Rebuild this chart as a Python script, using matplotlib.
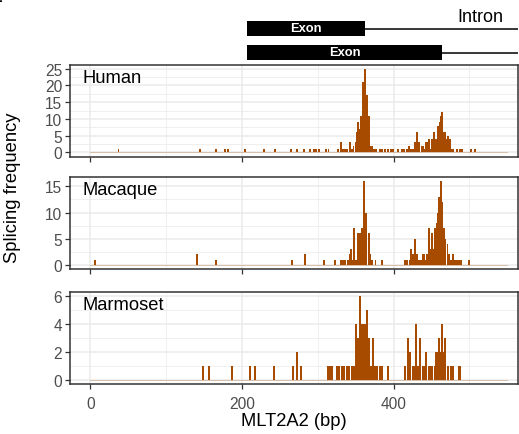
import matplotlib
matplotlib.use('Agg')
import matplotlib.pyplot as plt
from matplotlib.ticker import MultipleLocator

plt.rcParams['font.family'] = ['Liberation Sans', 'DejaVu Sans']

# Splicing positions (bp along MLT2A2) and frequencies
human_pos = [37, 144, 166, 178, 181, 204, 229, 244, 265, 272, 282, 290, 295, 298, 302, 311, 314,
             327, 330, 333, 336, 339, 342, 345, 347, 350, 352, 353, 355, 357, 359, 360, 362, 365, 367,
             369, 372, 374, 377, 382, 385, 388, 393, 396, 399, 406, 411, 414, 417, 420, 423, 426, 428,
             431, 434, 437, 439, 441, 443, 445, 447, 449, 451, 453, 456, 458, 459, 461, 462, 464, 466,
             468, 470, 472, 474, 476, 478, 484, 487, 490, 502, 507]
human_freq = [1, 1, 1, 1, 1, 1, 1, 1, 1, 1, 1, 1, 1, 1, 1, 1, 1,
              1, 3, 1, 1, 1, 3, 1, 2, 3, 6, 9, 7, 11, 16, 21, 25, 17, 11,
              2, 2, 1, 1, 1, 1, 1, 1, 1, 1, 1, 1, 1, 1, 2, 1, 1, 3,
              6, 3, 2, 2, 1, 3, 3, 4, 1, 4, 6, 4, 2, 8, 9, 11, 12, 6,
              6, 4, 5, 4, 1, 1, 1, 1, 1, 1, 1]

macaque_pos = [6, 141, 166, 266, 283, 308, 323, 330, 333, 336, 340, 342, 344, 346, 348, 350, 353,
               356, 358, 361, 364, 367, 369, 372, 376, 385, 415, 418, 421, 423, 426, 428, 431, 434,
               436, 438, 440, 442, 444, 447, 449, 451, 453, 455, 457, 458, 460, 462, 464, 466, 468,
               471, 473, 476, 478, 481, 483, 486, 489, 499]
macaque_freq = [1, 2, 1, 1, 2, 1, 1, 1, 1, 1, 1, 2, 3, 1, 7, 1, 6,
                6, 7, 16, 10, 6, 2, 1, 1, 1, 1, 1, 1, 3, 2, 5, 2, 1,
                1, 2, 2, 1, 2, 7, 3, 6, 3, 7, 8, 10, 13, 16, 12, 7, 5,
                4, 2, 1, 2, 1, 1, 1, 1, 1]

marmoset_pos = [148, 157, 187, 210, 217, 242, 267, 273, 278, 313, 316, 319, 325, 328, 332, 335, 338,
                341, 345, 348, 350, 353, 356, 358, 361, 363, 365, 368, 370, 373, 375, 378, 382, 384,
                393, 415, 419, 422, 425, 428, 430, 432, 435, 439, 441, 443, 446, 449, 451, 454, 456,
                458, 460, 462, 464, 466, 468, 472, 475, 478, 486, 488]
marmoset_freq = [1, 1, 1, 1, 1, 1, 1, 2, 1, 1, 1, 1, 1, 1, 1, 1, 1,
                 1, 1, 1, 4, 3, 6, 4, 4, 4, 5, 3, 1, 3, 1, 1, 1, 1,
                 1, 1, 3, 2, 1, 1, 4, 1, 3, 1, 1, 2, 1, 1, 1, 1, 2,
                 2, 3, 2, 4, 2, 3, 1, 1, 1, 1, 1]

species = ['Human', 'Macaque', 'Marmoset']
y_max = [25, 16, 6]
y_step = [5, 5, 2]

seq_len = 550
exon_start = 206
exon_ends = [362, 464]

bar_color = '#A64B00'
grid_color = '#EBEBEB'
border_color = '#333333'
text_color = '#4D4D4D'

W, H = 519, 435
fig = plt.figure(figsize=(W / 100, H / 100), dpi=100)

x_lim = (-27, 564)
left = 70 / W
width = 448 / W
panel_h = 92 / H
bottoms = [1 - 157.5 / H, 1 - 270 / H, 1 - 385 / H]

data = [(human_pos, human_freq), (macaque_pos, macaque_freq), (marmoset_pos, marmoset_freq)]

axes = []
for i, (pos, freq) in enumerate(data):
    ax = fig.add_axes([left, bottoms[i], width, panel_h])
    ax.bar(pos, freq, width=2.6, color=bar_color, linewidth=0, zorder=3)
    ax.plot([0, seq_len], [0, 0], color=bar_color, alpha=0.35, lw=0.6, zorder=2)
    ym = y_max[i]
    ax.set_ylim(-0.05 * ym, ym * 1.05)
    ax.set_xlim(*x_lim)
    ax.yaxis.set_major_locator(MultipleLocator(y_step[i]))
    ax.yaxis.set_minor_locator(MultipleLocator(y_step[i] / 2))
    ax.xaxis.set_major_locator(MultipleLocator(200))
    ax.xaxis.set_minor_locator(MultipleLocator(100))
    ax.grid(which='major', color=grid_color, lw=1.1, zorder=0)
    ax.grid(which='minor', color=grid_color, lw=0.55, zorder=0)
    ax.set_axisbelow(True)
    for s in ax.spines.values():
        s.set_color(border_color)
        s.set_linewidth(1.1)
    ax.tick_params(which='major', length=3.5, width=0.9, color=border_color,
                   labelcolor=text_color, labelsize=11.2, pad=2)
    ax.tick_params(axis='x', pad=5)
    ax.tick_params(which='minor', length=0)
    if i < 2:
        ax.tick_params(axis='x', labelbottom=False)
    ax.text(0.028, 0.86, species[i], transform=ax.transAxes, fontsize=13.2,
            ha='left', va='center', color='black')
    axes.append(ax)

axes[2].set_xlabel('MLT2A2 (bp)', fontsize=13.2, labelpad=1)
fig.text(13 / W, 1 - 188 / H, 'Splicing frequency', rotation=90, fontsize=13.2,
         ha='center', va='center')

# gene structure diagram on top
gax = fig.add_axes([left, 1 - 64 / H, width, 52 / H])
gax.set_xlim(*x_lim)
gax.set_ylim(0, 52)
gax.axis('off')
rows = [(27, 42), (3, 18)]
for (y0, y1), end in zip(rows, exon_ends):
    gax.fill_between([exon_start, end], y0, y1, color='black', lw=0)
    gax.plot([end, x_lim[1]], [(y0 + y1) / 2] * 2, color='black', lw=1.1,
             solid_capstyle='butt')
    gax.text((exon_start + end) / 2, (y0 + y1) / 2, 'Exon', color='white',
             fontsize=9.3, fontweight='bold', ha='center', va='center')
gax.text(515, 47, 'Intron', fontsize=13, ha='center', va='center')

# cropped panel letter at the top-left corner
fig.text(-9 / W, 1 + 6 / H, 'F', fontsize=14, fontweight='bold', ha='left', va='top')

fig.savefig('out.png', dpi=100)
